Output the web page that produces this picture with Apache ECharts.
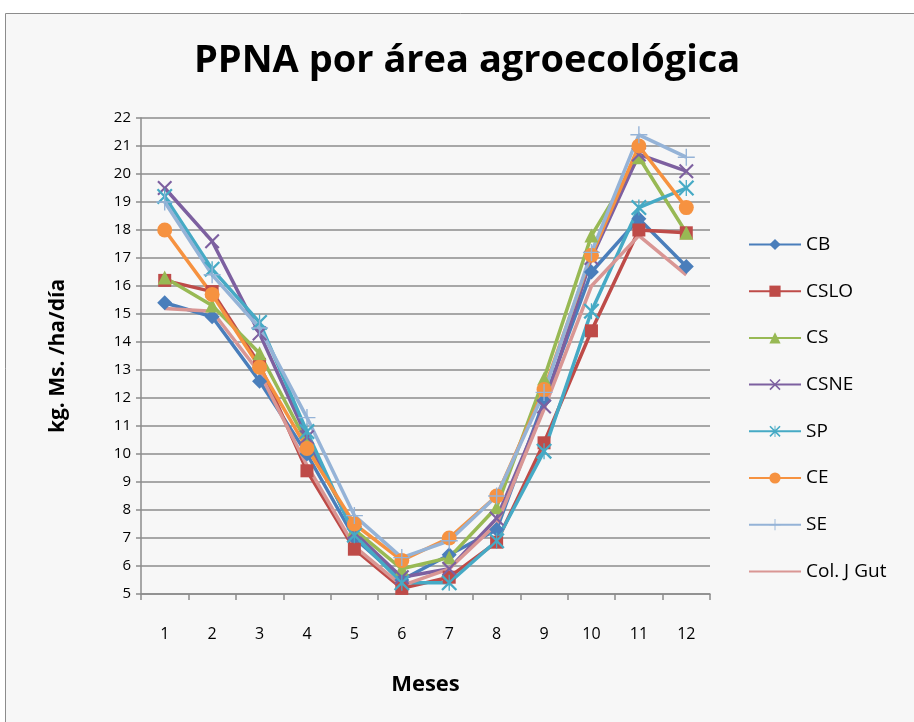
<!DOCTYPE html>
<html>
<head>
<meta charset="utf-8">
<script src="https://cdn.jsdelivr.net/npm/echarts@6/dist/echarts.min.js"></script>
<style>
  html, body { margin: 0; padding: 0; background: #fff; }
  #chart { width: 914px; height: 722px; }
</style>
</head>
<body>
<div id="chart"></div>
<script>
// meses y valores
var meses = ['1', '2', '3', '4', '5', '6', '7', '8', '9', '10', '11', '12'];

var cb   = [15.4, 14.9, 12.6, 10.0, 7.0, 5.5, 6.4, 7.3, 11.9, 16.5, 18.4, 16.7];
var cslo = [16.2, 15.8, 13.2, 9.4, 6.6, 5.2, 5.6, 6.85, 10.4, 14.4, 18.0, 17.9];
var cs   = [16.3, 15.3, 13.6, 10.4, 7.3, 5.9, 6.3, 8.1, 12.7, 17.8, 20.6, 17.9];
var csne = [19.5, 17.6, 14.3, 10.6, 7.2, 5.6, 5.9, 7.7, 11.7, 17.0, 20.7, 20.1];
var sp   = [19.2, 16.6, 14.7, 10.8, 7.1, 5.4, 5.4, 6.9, 10.1, 15.1, 18.8, 19.5];
var ce   = [18.0, 15.7, 13.1, 10.2, 7.5, 6.2, 7.0, 8.5, 12.3, 17.1, 21.0, 18.8];
var se   = [19.0, 16.4, 14.5, 11.3, 7.8, 6.3, 6.9, 8.5, 12.2, 17.2, 21.4, 20.6];
var colj = [15.2, 15.1, 12.9, 9.6, 6.7, 5.3, 5.9, 7.5, 11.6, 16.0, 17.8, 16.4];

var FONT = 'Open Sans';

// marcadores de linea fina (x, asterisco, cruz)
var symX = 'path://M0,1L1,0L5,4L9,0L10,1L6,5L10,9L9,10L5,6L1,10L0,9L4,5Z';
var symPlus = 'path://M4.6,0H5.4V4.6H10V5.4H5.4V10H4.6V5.4H0V4.6H4.6Z';
var symStar = 'path://M0,1L1,0L5,4L9,0L10,1L6,5L10,9L9,10L5,6L1,10L0,9L4,5Z' +
  'M4.6,0H5.4V10H4.6Z';

function serie(name, data, color, symbol, size) {
  return {
    name: name,
    type: 'line',
    data: data,
    symbol: symbol,
    symbolSize: size,
    showSymbol: symbol !== 'none',
    lineStyle: { color: color, width: 3.5 },
    itemStyle: { color: color },
    emphasis: { disabled: true },
    animation: false
  };
}

var chart = echarts.init(document.getElementById('chart'));
chart.setOption({
  backgroundColor: '#ffffff',
  graphic: [{
    type: 'rect',
    z: -10,
    shape: { x: 5.5, y: 13.5, width: 1000, height: 800 },
    style: { fill: '#f7f7f7', stroke: '#8c8c8c', lineWidth: 1 }
  }],
  title: {
    text: 'PPNA por área agroecológica',
    left: 189,
    top: 37,
    textStyle: { fontFamily: FONT, fontSize: 38, fontWeight: 'bold', color: '#000' }
  },
  legend: {
    orient: 'vertical',
    left: 743,
    top: 230,
    itemWidth: 52,
    itemHeight: 14,
    itemGap: 27.7,
    textStyle: { fontFamily: FONT, fontSize: 19, color: '#000' },
    data: ['CB', 'CSLO', 'CS', 'CSNE', 'SP', 'CE', 'SE',
      { name: 'Col. J Gut', itemStyle: { opacity: 0 } }]
  },
  grid: { left: 141, right: 204, top: 118, bottom: 128 },
  xAxis: {
    type: 'category',
    data: meses,
    name: 'Meses',
    nameLocation: 'middle',
    nameGap: 80,
    nameTextStyle: { fontFamily: FONT, fontSize: 22, fontWeight: 'bold', color: '#000' },
    axisLine: { lineStyle: { color: '#8c8c8c', width: 1.5 } },
    axisTick: { show: true, length: 6, lineStyle: { color: '#8c8c8c', width: 1.5 } },
    axisLabel: { fontFamily: FONT, fontSize: 16, color: '#000', margin: 32 }
  },
  yAxis: {
    type: 'value',
    min: 5,
    max: 22,
    interval: 1,
    name: 'kg. Ms. /ha/día',
    nameLocation: 'middle',
    nameGap: 72,
    nameRotate: 90,
    nameTextStyle: { fontFamily: FONT, fontSize: 21, fontWeight: 'bold', color: '#000' },
    axisLine: { show: true, lineStyle: { color: '#8c8c8c', width: 1.5 } },
    axisTick: { show: true, length: 5, lineStyle: { color: '#8c8c8c', width: 1.5 } },
    axisLabel: { fontFamily: FONT, fontSize: 15, color: '#000', margin: 10 },
    splitLine: { lineStyle: { color: '#8c8c8c', width: 1.5 } }
  },
  series: [
    serie('CB', cb, '#4a7ebb', 'diamond', 15),
    serie('CSLO', cslo, '#be4b48', 'rect', 13),
    serie('CS', cs, '#98b954', 'triangle', 14),
    serie('CSNE', csne, '#7d60a0', symX, 15),
    serie('SP', sp, '#46aac5', symStar, 16),
    serie('CE', ce, '#f69240', 'circle', 15),
    serie('SE', se, '#95b3d7', symPlus, 17),
    serie('Col. J Gut', colj, '#d99694', 'none', 0)
  ]
});
</script>
</body>
</html>
